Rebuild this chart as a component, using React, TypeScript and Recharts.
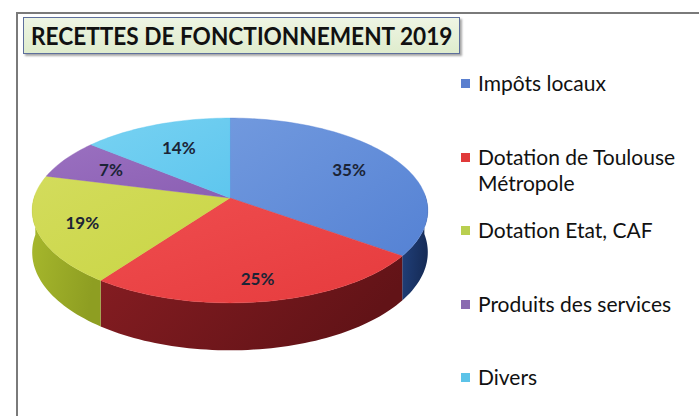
import React from 'react';
import { PieChart, Pie, Cell, Legend } from 'recharts';

const categories = ['Impôts locaux', 'Dotation de Toulouse Métropole', 'Dotation Etat, CAF', 'Produits des services', 'Divers'];
const values = [35, 25, 19, 7, 14];
const topColors = ['#5582d4', '#e63b3d', '#c9d544', '#8b5fb3', '#5ec6ee'];
const topColorsLight = ['#7199de', '#ef4d4f', '#d3dc5c', '#9a70c0', '#78d2f2'];
const sideColors = ['#22427e', '#861d22', '#a8b92d', '#5a3a80', '#2f9cc8'];
const sideColorsDark = ['#162c58', '#621317', '#8e9e22', '#4a2f6a', '#2786ad'];
const legendColors = ['#5a7fcf', '#e03a3a', '#b9cf4f', '#8a6ab0', '#5cc3e8'];

const data = categories.map((name, i) => ({ name, value: values[i], idx: i }));

const K = 0.463; // vertical squash
const P = 0.135; // perspective
const D0 = 41; // depth

const RAD = Math.PI / 180;

function proj(cx: number, cy: number, R: number, r: number, aDeg: number, down = 0) {
  const a = aDeg * RAD;
  const X = r * Math.cos(a);
  const Z = r * Math.sin(a);
  const w = 1 + P * Z;
  return [cx + (R * X) / w, cy - (R * K * Z) / w + down / w];
}

function arcAngles(s: number, e: number) {
  const n = Math.max(2, Math.ceil(Math.abs(e - s) / 1.5));
  const out: number[] = [];
  for (let i = 0; i <= n; i++) out.push(s + ((e - s) * i) / n);
  return out;
}

const TopShape = (props: any) => {
  const { cx, cy, outerRadius, startAngle, endAngle, payload } = props;
  const i = payload?.idx ?? props.index ?? 0;
  const pts = arcAngles(startAngle, endAngle).map((a) => proj(cx, cy, outerRadius, 1, a));
  const d = `M${cx},${cy} ` + pts.map((p) => `L${p[0].toFixed(2)},${p[1].toFixed(2)}`).join(' ') + ' Z';
  const id = `topg${i}`;
  return (
    <g>
      <defs>
        <linearGradient id={id} x1="0" y1="0" x2="1" y2="1">
          <stop offset="0%" stopColor={topColorsLight[i]} />
          <stop offset="100%" stopColor={topColors[i]} />
        </linearGradient>
      </defs>
      <path d={d} fill={`url(#${id})`} stroke={topColors[i]} strokeWidth={0.4} />
    </g>
  );
};

const SideShape = (props: any) => {
  const { cx, cy, outerRadius, startAngle, endAngle, payload } = props;
  const idx = payload?.idx ?? props.index ?? 0;
  const angs = arcAngles(startAngle, endAngle).filter((a) => Math.sin(a * RAD) < 0.06);
  if (angs.length < 2) return <g />;
  const top = angs.map((a) => proj(cx, cy, outerRadius, 1, a));
  const bot = angs.map((a) => proj(cx, cy, outerRadius, 1, a, D0)).reverse();
  const d =
    'M' +
    top.concat(bot).map((p) => `${p[0].toFixed(2)},${p[1].toFixed(2)}`).join(' L') +
    ' Z';
  const id = `sideg${idx}`;
  return (
    <g>
      <defs>
        <linearGradient id={id} x1="0" y1="0" x2="1" y2="0.3">
          <stop offset="0%" stopColor={sideColors[idx]} />
          <stop offset="100%" stopColor={sideColorsDark[idx]} />
        </linearGradient>
      </defs>
      <path d={d} fill={`url(#${id})`} stroke="none" />
    </g>
  );
};

const renderLabel = (props: any) => {
  const { cx, cy, outerRadius, midAngle, percent } = props;
  const s = Math.sin(midAngle * RAD);
  const c = Math.cos(midAngle * RAD);
  const f = 0.75 - 0.15 * s;
  const x = cx + outerRadius * c * f;
  const y = cy - outerRadius * K * s * f;
  return (
    <text
      x={x}
      y={y}
      textAnchor="middle"
      dominantBaseline="central"
      fontFamily="Lato, 'Open Sans', sans-serif"
      fontWeight={700}
      fontSize={17}
      fill="#1b2436"
    >
      {`${Math.round(percent * 100)}%`}
    </text>
  );
};

const renderLegend = () => (
  <div style={{ fontFamily: "Lato, 'Open Sans', sans-serif", fontSize: 21, color: '#111', lineHeight: '26px' }}>
    {categories.map((name, i) => (
      <div key={name} style={{ height: 73.5, display: 'flex', alignItems: 'flex-start' }}>
        <span
          style={{
            display: 'inline-block',
            width: 9,
            height: 9,
            background: legendColors[i],
            marginTop: 9,
            marginRight: 8,
            flex: '0 0 auto',
          }}
        />
        <span style={{ width: 215 }}>{name}</span>
      </div>
    ))}
  </div>
);

export default function App() {
  return (
    <div style={{ position: 'absolute', left: 0, top: 0, width: 699, height: 416, background: '#fff', overflow: 'hidden' }}>
      <div
        style={{
          position: 'absolute',
          left: 16,
          top: 12,
          width: 700,
          height: 420,
          borderLeft: '2px solid #7a7a7a',
          borderTop: '2px solid #7a7a7a',
        }}
      />
      <div
        style={{
          position: 'absolute',
          left: 23,
          top: 17,
          width: 437,
          height: 37,
          background: 'linear-gradient(#eef5e4, #dfeccd)',
          border: '1.5px solid #5d6f9c',
          boxShadow: '2px 2px 2px rgba(0,0,0,0.35)',
          boxSizing: 'border-box',
          overflow: 'visible',
        }}
      >
        <span
          style={{
            position: 'absolute',
            left: 7,
            top: 0,
            display: 'inline-block',
            fontFamily: "Lato, 'Open Sans', sans-serif",
            fontWeight: 700,
            fontSize: 25,
            lineHeight: '35px',
            color: '#111',
            whiteSpace: 'nowrap',
            transform: 'scaleX(0.905)',
            transformOrigin: 'left center',
          }}
        >
          RECETTES DE FONCTIONNEMENT 2019
        </span>
      </div>
      <div style={{ position: 'absolute', left: 0, top: 0 }}>
        <PieChart width={699} height={416}>
          <Pie
            data={data}
            dataKey="value"
            nameKey="name"
            cx={225}
            cy={193}
            outerRadius={196}
            startAngle={90}
            endAngle={-270}
            shape={SideShape}
            legendType="none"
            isAnimationActive={false}
            stroke="none"
          >
            {data.map((d, i) => (
              <Cell key={d.name} fill={sideColors[i]} />
            ))}
          </Pie>
          <Pie
            data={data}
            dataKey="value"
            nameKey="name"
            cx={225}
            cy={193}
            outerRadius={196}
            startAngle={90}
            endAngle={-270}
            shape={TopShape}
            label={renderLabel}
            labelLine={false}
            isAnimationActive={false}
            stroke="none"
          >
            {data.map((d, i) => (
              <Cell key={d.name} fill={topColors[i]} />
            ))}
          </Pie>
          <Legend
            layout="vertical"
            align="right"
            verticalAlign="top"
            content={renderLegend}
            wrapperStyle={{ position: 'absolute', left: 461, top: 70, width: 235 }}
          />
        </PieChart>
      </div>
    </div>
  );
}
